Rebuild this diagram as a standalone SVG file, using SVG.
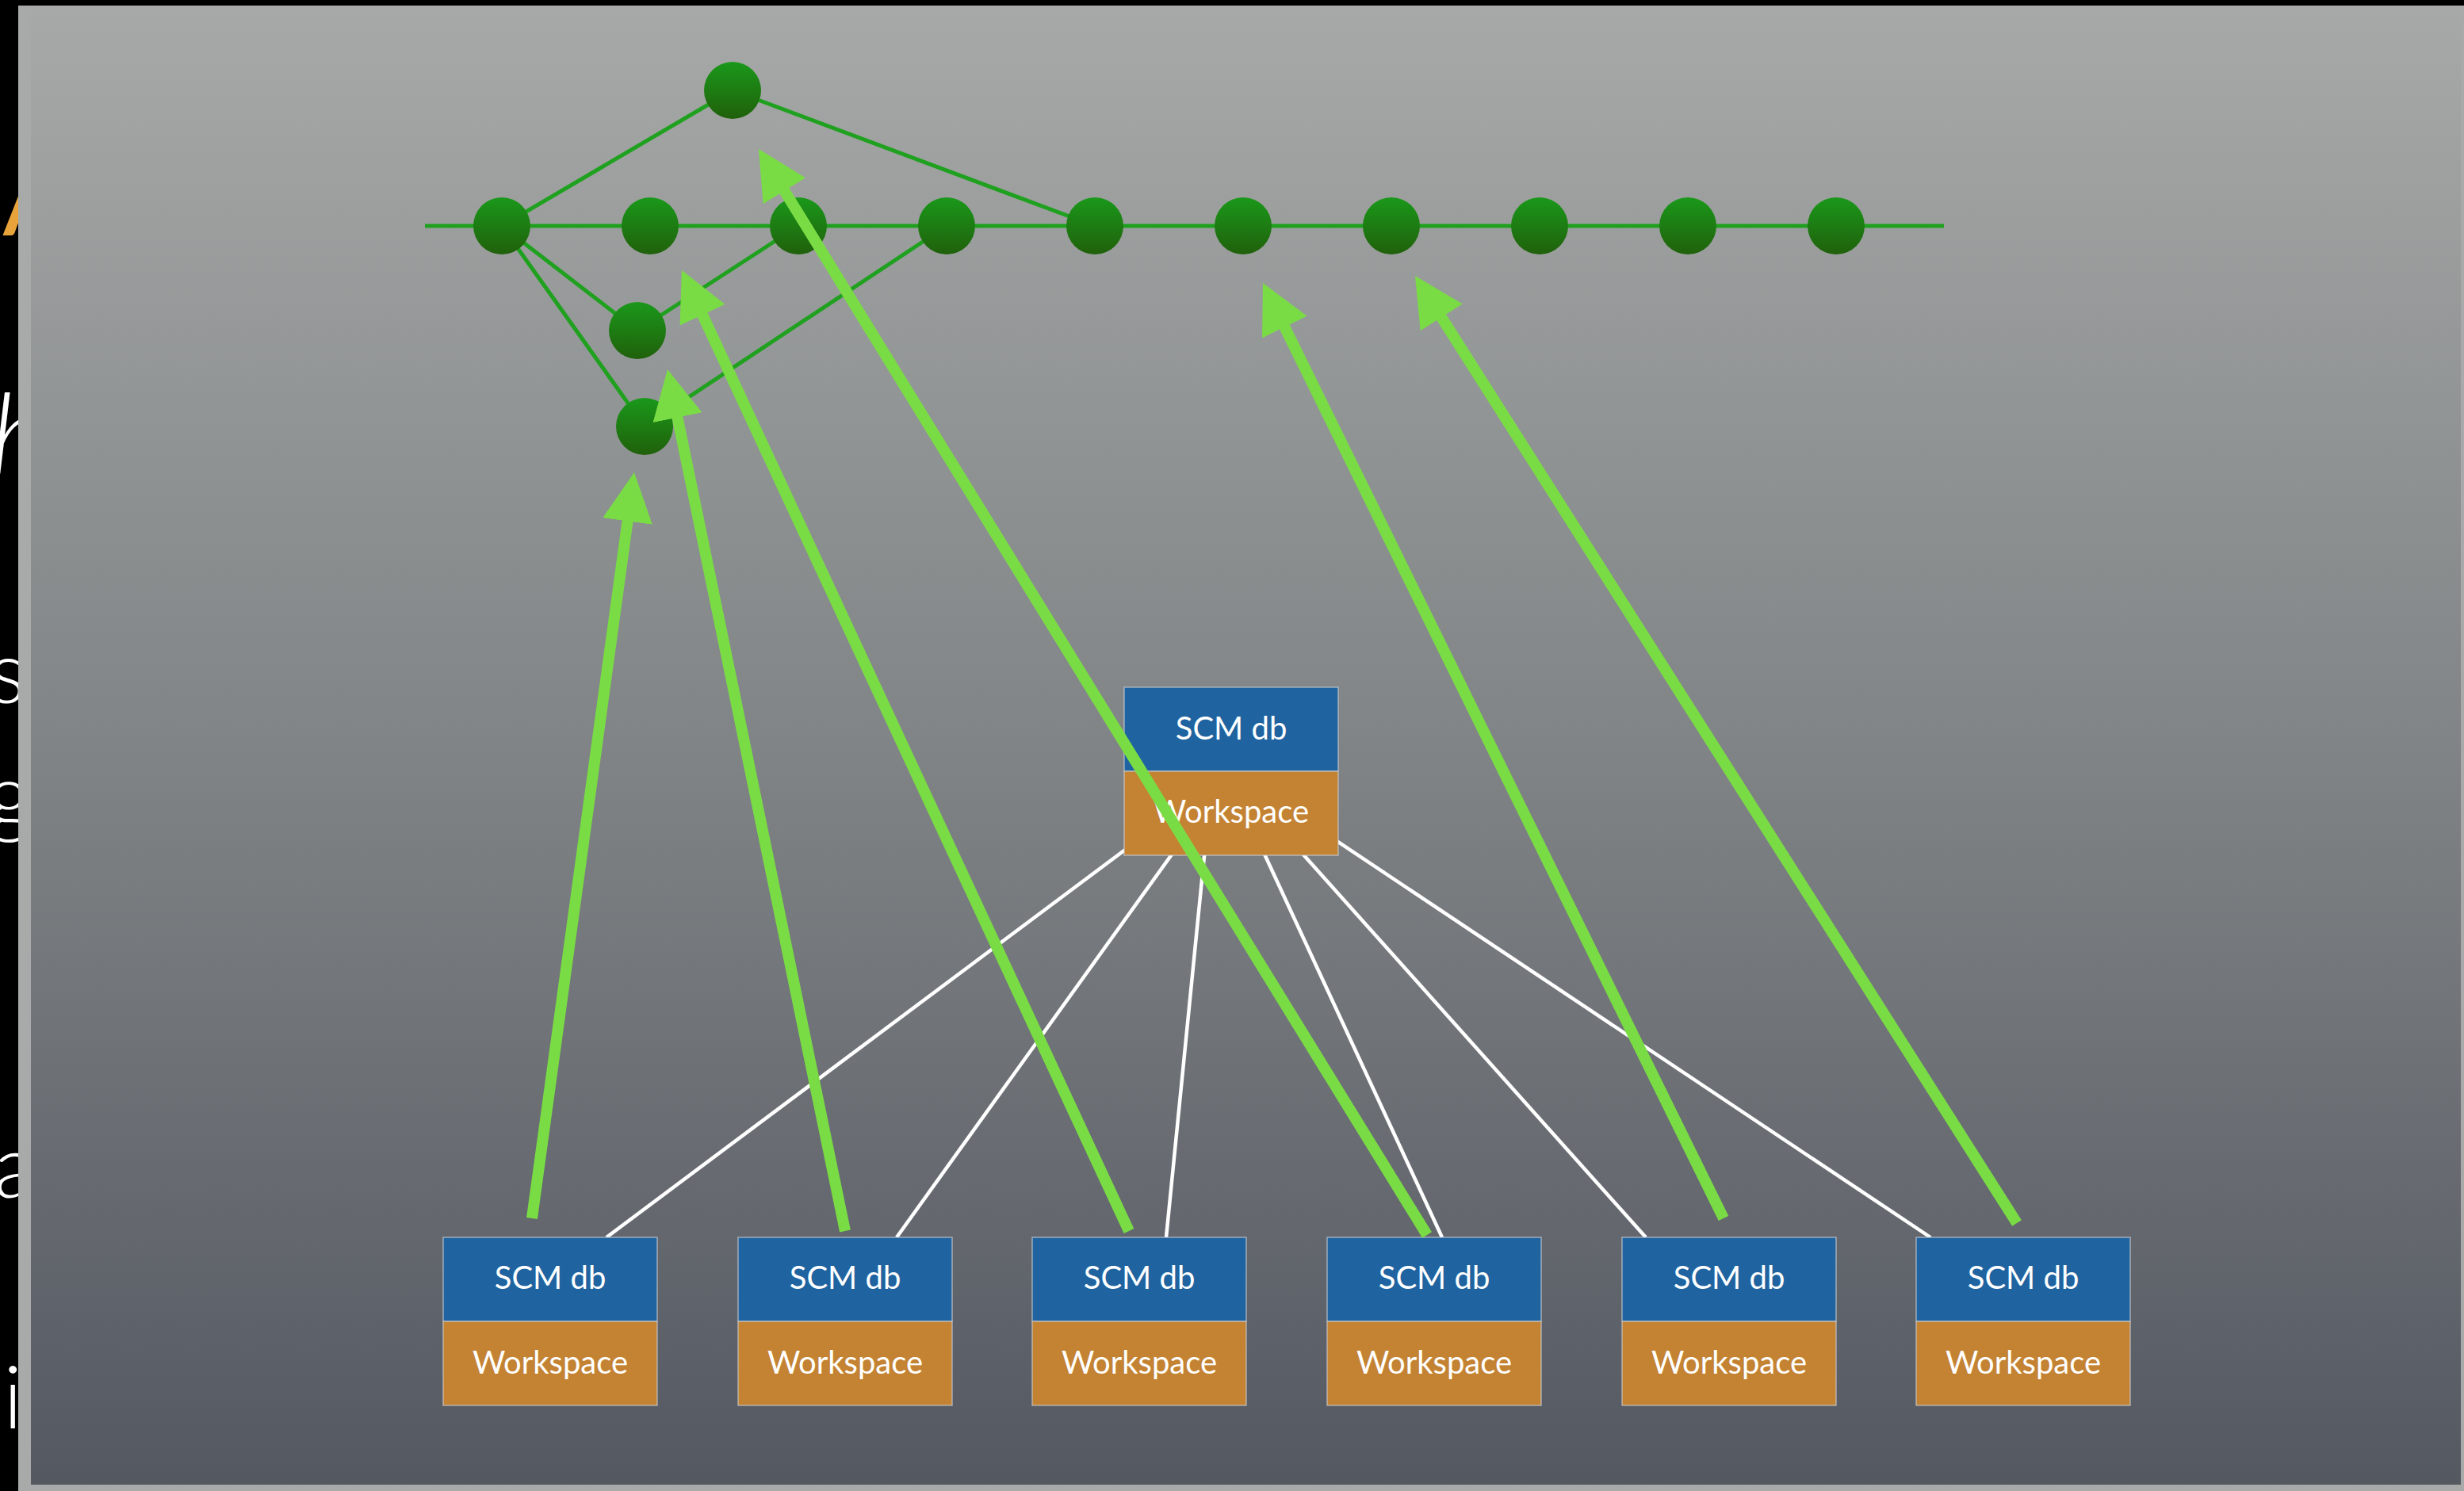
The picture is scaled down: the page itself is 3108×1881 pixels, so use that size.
<svg xmlns="http://www.w3.org/2000/svg" width="3108" height="1881" viewBox="0 0 3108 1881">
  <defs>
    <linearGradient id="slideBg" x1="0" y1="0" x2="0" y2="1">
      <stop offset="0" stop-color="#a6a9a7"/>
      <stop offset="0.5" stop-color="#818486"/>
      <stop offset="1" stop-color="#545861"/>
    </linearGradient>
    <linearGradient id="commitFill" x1="0" y1="0" x2="0" y2="1">
      <stop offset="0" stop-color="#1a981a"/>
      <stop offset="1" stop-color="#20600b"/>
    </linearGradient>
    <marker id="push" markerUnits="userSpaceOnUse" viewBox="0 0 62 63" markerWidth="62" markerHeight="63" refX="6" refY="31.5" orient="auto">
      <path d="M0,0 L62,31.5 L0,63 Z" fill="#7adc45"/>
    </marker>
    <style>
      .edge { stroke: #1fa11f; stroke-width: 5; fill: none; }
      .commit { fill: url(#commitFill); }
      .link { stroke: #ffffff; stroke-width: 4.5; fill: none; }
      .arrow { stroke: #7adc45; stroke-width: 14; fill: none; marker-end: url(#push); }
      .db { fill: #1f64a0; stroke: #c9ccd0; stroke-opacity: 0.7; stroke-width: 1.5; }
      .ws { fill: #c48333; stroke: #c9ccd0; stroke-opacity: 0.7; stroke-width: 1.5; }
      .lbl { font-family: Lato, "Open Sans", "Liberation Sans", sans-serif; font-size: 40px; font-weight: 400; fill: #ffffff; text-anchor: middle; }
      .behind { font-family: Lato, "Open Sans", "Liberation Sans", sans-serif; font-size: 110px; fill: #ffffff; font-weight: 300; }
    </style>
  </defs>

  <!-- backdrop and the text of the slide underneath -->
  <rect x="0" y="0" width="3108" height="1881" fill="#000000"/>
  <g id="underlying-text">
    <text x="4" y="297" style="font-family: Lato, 'Liberation Sans', sans-serif; font-size: 100px; font-weight: 700; fill: #e8a43a;">A</text>
    <text class="behind" x="-12" y="597" style="font-size: 140px; font-style: italic;">h</text>
    <text class="behind" x="-14" y="887">s</text>
    <text class="behind" x="-16" y="1042">g</text>
    <text class="behind" x="-8" y="1511">a</text>
    <text class="behind" x="4" y="1802">i</text>
  </g>

  <!-- slide -->
  <rect x="23" y="7" width="3085" height="1874" fill="#a7aaa8"/>
  <rect x="39" y="7" width="3065" height="1866" fill="url(#slideBg)"/>

  <!-- workspace links from the central repository (drawn behind it) -->
  <g id="connectors">
    <g id="links">
      <line class="link" x1="1553" y1="972" x2="765" y2="1561"/>
      <line class="link" x1="1534" y1="1000" x2="1131" y2="1561"/>
      <line class="link" x1="1527" y1="1000" x2="1471" y2="1561"/>
      <line class="link" x1="1559" y1="1000" x2="1819" y2="1561"/>
      <line class="link" x1="1574" y1="1000" x2="2076" y2="1561"/>
      <line class="link" x1="1553" y1="972" x2="2435" y2="1561"/>
    </g>
    <!-- history graph edges -->
    <g id="history-edges">
      <line class="edge" x1="536" y1="285" x2="2452" y2="285"/>
      <line class="edge" x1="633" y1="285" x2="924" y2="114"/>
      <line class="edge" x1="924" y1="114" x2="1381" y2="285"/>
      <line class="edge" x1="633" y1="285" x2="804" y2="417"/>
      <line class="edge" x1="804" y1="417" x2="1007" y2="285"/>
      <line class="edge" x1="633" y1="285" x2="813" y2="538"/>
      <line class="edge" x1="813" y1="538" x2="1194" y2="285"/>
    </g>
  </g>

  <!-- commits -->
  <g id="c-top"><circle class="commit" cx="924" cy="114" r="36"/></g>
  <g id="c1"><circle class="commit" cx="633" cy="285" r="36"/></g>
  <g id="c2"><circle class="commit" cx="820" cy="285" r="36"/></g>
  <g id="c3"><circle class="commit" cx="1007" cy="285" r="36"/></g>
  <g id="c4"><circle class="commit" cx="1194" cy="285" r="36"/></g>
  <g id="c5"><circle class="commit" cx="1381" cy="285" r="36"/></g>
  <g id="c6"><circle class="commit" cx="1568" cy="285" r="36"/></g>
  <g id="c7"><circle class="commit" cx="1755" cy="285" r="36"/></g>
  <g id="c8"><circle class="commit" cx="1942" cy="285" r="36"/></g>
  <g id="c9"><circle class="commit" cx="2129" cy="285" r="36"/></g>
  <g id="c10"><circle class="commit" cx="2316" cy="285" r="36"/></g>
  <g id="c-mid"><circle class="commit" cx="804" cy="417" r="36"/></g>
  <g id="c-low"><circle class="commit" cx="813" cy="538" r="36"/></g>

  <!-- central repository -->
  <g id="central">
    <rect class="db" x="1418" y="867" width="270" height="106"/>
    <rect class="ws" x="1418" y="973" width="270" height="106"/>
    <text class="lbl" x="1553" y="933">SCM db</text>
    <text class="lbl" x="1553" y="1038">Workspace</text>
  </g>

  <!-- developer repositories -->
  <g id="dev1">
    <rect class="db" x="559" y="1561" width="270" height="106"/>
    <rect class="ws" x="559" y="1667" width="270" height="106"/>
    <text class="lbl" x="694" y="1626">SCM db</text>
    <text class="lbl" x="694" y="1733">Workspace</text>
  </g>
  <g id="dev2">
    <rect class="db" x="931" y="1561" width="270" height="106"/>
    <rect class="ws" x="931" y="1667" width="270" height="106"/>
    <text class="lbl" x="1066" y="1626">SCM db</text>
    <text class="lbl" x="1066" y="1733">Workspace</text>
  </g>
  <g id="dev3">
    <rect class="db" x="1302" y="1561" width="270" height="106"/>
    <rect class="ws" x="1302" y="1667" width="270" height="106"/>
    <text class="lbl" x="1437" y="1626">SCM db</text>
    <text class="lbl" x="1437" y="1733">Workspace</text>
  </g>
  <g id="dev4">
    <rect class="db" x="1674" y="1561" width="270" height="106"/>
    <rect class="ws" x="1674" y="1667" width="270" height="106"/>
    <text class="lbl" x="1809" y="1626">SCM db</text>
    <text class="lbl" x="1809" y="1733">Workspace</text>
  </g>
  <g id="dev5">
    <rect class="db" x="2046" y="1561" width="270" height="106"/>
    <rect class="ws" x="2046" y="1667" width="270" height="106"/>
    <text class="lbl" x="2181" y="1626">SCM db</text>
    <text class="lbl" x="2181" y="1733">Workspace</text>
  </g>
  <g id="dev6">
    <rect class="db" x="2417" y="1561" width="270" height="106"/>
    <rect class="ws" x="2417" y="1667" width="270" height="106"/>
    <text class="lbl" x="2552" y="1626">SCM db</text>
    <text class="lbl" x="2552" y="1733">Workspace</text>
  </g>

  <!-- each developer's checked-out commit -->
  <g id="checkouts">
    <line class="arrow" x1="671" y1="1537" x2="792.4" y2="651.5"/>
    <line class="arrow" x1="1066" y1="1553" x2="853.3" y2="520.8"/>
    <line class="arrow" x1="1424" y1="1553" x2="883.6" y2="391.8"/>
    <line class="arrow" x1="1800" y1="1558" x2="986.3" y2="235.7"/>
    <line class="arrow" x1="2174" y1="1537" x2="1617.7" y2="407.2"/>
    <line class="arrow" x1="2544" y1="1543" x2="1815" y2="395.3"/>
  </g>
</svg>
